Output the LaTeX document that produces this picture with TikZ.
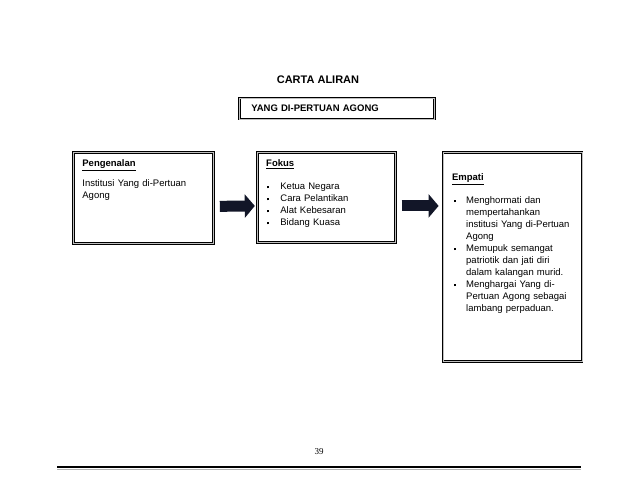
\documentclass[tikz,border=0pt]{standalone}
\usepackage{fontspec}
\setmainfont{Liberation Sans}
\newfontfamily\pagefont{Liberation Serif}
\usetikzlibrary{positioning,arrows.meta}
\definecolor{arrowfill}{RGB}{18,22,40}
\newcommand{\bul}{\raisebox{1.6pt}{\rule{2.2pt}{2.2pt}}}

\begin{document}
\begin{tikzpicture}[x=1pt,y=-1pt,
  box/.style={draw,double=gray!50,double distance=1pt,line width=0.8pt,inner xsep=9pt,inner ysep=0pt,align=left,font=\fontsize{9.5}{12}\selectfont},
  blockarrow/.style={draw=arrowfill,line width=11pt,-{Triangle[length=10pt,width=23pt]}}]
\useasboundingbox (0,0) rectangle (638,493);
 \node[font=\bfseries\fontsize{11}{13}\selectfont] (title) at (318,80) {CARTA ALIRAN};
 \node[box,anchor=west,inner xsep=12pt,text width=171pt,minimum height=21pt,font=\bfseries\fontsize{9.5}{12}\selectfont] (agong) at (239,108.5) {YANG DI-PERTUAN AGONG};

 \node[box,anchor=north west,text width=122pt,text height=14pt,text depth=77pt] (pengenalan) at (73,152)
  {\underline{\textbf{Pengenalan}}\\[8pt] Institusi Yang di-Pertuan\\ Agong};
 \node[box,text width=120pt,text height=14.5pt,text depth=75.5pt] (fokus) [right=43pt of pengenalan.north east,anchor=north west]
  {\underline{\textbf{Fokus}}\\[11pt]
   \begin{tabular}[t]{@{\hspace{1pt}}l@{\hspace{11pt}}l@{}}
    \bul & Ketua Negara\\ \bul & Cara Pelantikan\\ \bul & Alat Kebesaran\\ \bul & Bidang Kuasa
   \end{tabular}};
 \node[box,text width=121pt,text height=28pt,text depth=181pt] (empati) [right=47pt of fokus.north east,anchor=north west]
  {\underline{\textbf{Empati}}\\[10pt]
   \begin{tabular}[t]{@{\hspace{2pt}}l@{\hspace{10pt}}l@{}}
    \bul & Menghormati dan\\ & mempertahankan\\ & institusi Yang di-Pertuan\\ & Agong\\
    \bul & Memupuk semangat\\ & patriotik dan jati diri\\ & dalam kalangan murid.\\
    \bul & Menghargai Yang di-\\ & Pertuan Agong sebagai\\ & lambang perpaduan.
   \end{tabular}};

 \node[font=\pagefont\fontsize{9}{11}\selectfont] (pagenum) at (319,452) {39};

\path ([yshift=-8.5pt]pengenalan.east) edge [blockarrow,shorten <=6pt,shorten >=2pt] ([yshift=-8.5pt]fokus.west);
\path ([yshift=-8.5pt]fokus.east) edge [blockarrow,shorten <=6pt,shorten >=4pt] ([yshift=-8.5pt]empati.west |- fokus.east);

% page rule
\draw[line width=2.4pt] (57,467) -- (581,467);
\draw[gray!60,line width=0.8pt] (57,469) -- (581,469);
\end{tikzpicture}
\end{document}
